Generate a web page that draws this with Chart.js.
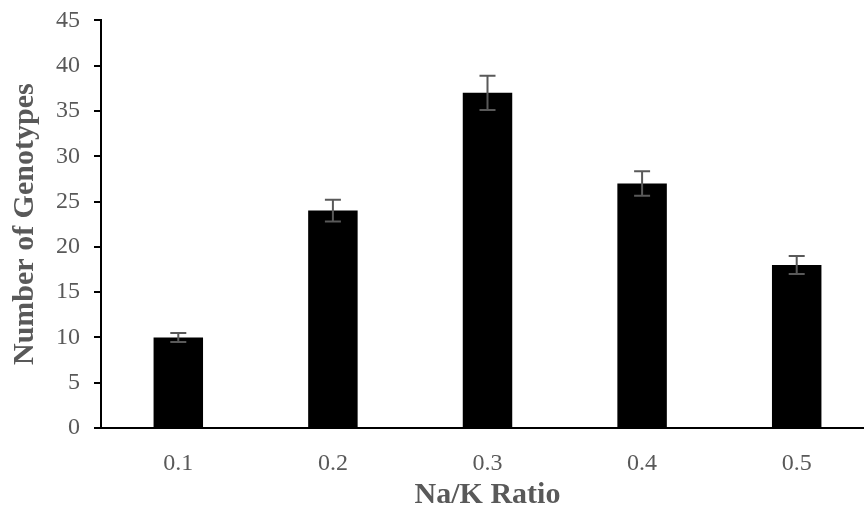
<!DOCTYPE html>
<html>
<head>
<meta charset="utf-8">
<script src="https://cdn.jsdelivr.net/npm/chart.js@4/dist/chart.umd.min.js"></script>
<style>
  html, body { margin: 0; padding: 0; background: #fff; overflow: hidden; }
  #wrap { position: relative; top: -8px; width: 874px; height: 526px; }
</style>
</head>
<body>
<div id="wrap"><canvas id="bar-graph"></canvas></div>
<script>
// ratio groups and genotype counts
let ratios = ["0.1", "0.2", "0.3", "0.4", "0.5"]
let genotypes = [10, 24, 37, 27, 18]
let errors = [0.5, 1.2, 1.9, 1.35, 1.0]
let yTicks = [0, 5, 10, 15, 20, 25, 30, 35, 40, 45]

const grey = "#595959"
const serif = "'Liberation Serif', 'Times New Roman', serif"

// draws the +/- error whiskers on top of each bar
const errorBars = {
  id: "errorBars",
  afterDatasetsDraw(chart) {
    let ctx = chart.ctx
    let yScale = chart.scales.y
    let meta = chart.getDatasetMeta(0)
    ctx.save()
    ctx.strokeStyle = grey
    ctx.lineWidth = 2
    meta.data.forEach((bar, i) => {
      let hi = yScale.getPixelForValue(genotypes[i] + errors[i])
      let lo = yScale.getPixelForValue(genotypes[i] - errors[i])
      let x = bar.x
      ctx.beginPath()
      ctx.moveTo(x, hi); ctx.lineTo(x, lo)
      ctx.moveTo(x - 8, hi); ctx.lineTo(x + 8, hi)
      ctx.moveTo(x - 8, lo); ctx.lineTo(x + 8, lo)
      ctx.stroke()
    })
    ctx.restore()
  }
}

let barData = {
  labels: ratios,
  datasets: [{
    data: genotypes,
    backgroundColor: "#000000",
    barPercentage: 0.32,
    categoryPercentage: 1.0
  }]
}

let barOptions = {
  responsive: true,
  maintainAspectRatio: false,
  animation: false,
  layout: { padding: { top: 0, left: 0, right: 0, bottom: 0 } },
  plugins: {
    legend: { display: false },
    tooltip: { enabled: false }
  },
  scales: {
    x: {
      grid: { display: false },
      border: { color: "#000", width: 2 },
      ticks: { color: grey, font: { family: serif, size: 24 }, padding: 13 },
      title: {
        display: true, text: "Na/K Ratio", color: grey,
        font: { family: serif, size: 30, weight: "bold" },
        padding: { top: 0, bottom: 5 }
      },
      afterFit(scale) { scale.height = 90 }
    },
    y: {
      min: 0,
      max: 45,
      afterBuildTicks(scale) { scale.ticks = yTicks.map(v => ({ value: v })) },
      grid: { drawOnChartArea: false, drawTicks: true, tickLength: 7, color: "#000", lineWidth: 2 },
      border: { color: "#000", width: 2 },
      ticks: { color: grey, font: { family: serif, size: 24 }, padding: 14 },
      title: {
        display: true, text: "Number of Genotypes", color: grey,
        font: { family: serif, size: 30, weight: "bold" },
        padding: { top: 7, bottom: 0 }
      },
      afterFit(scale) { scale.width = 101 }
    }
  }
}

let barGraph = document.getElementById("bar-graph").getContext("2d")
const barChart = new Chart(barGraph, {
  type: "bar",
  data: barData,
  options: barOptions,
  plugins: [errorBars]
})
</script>
</body>
</html>
